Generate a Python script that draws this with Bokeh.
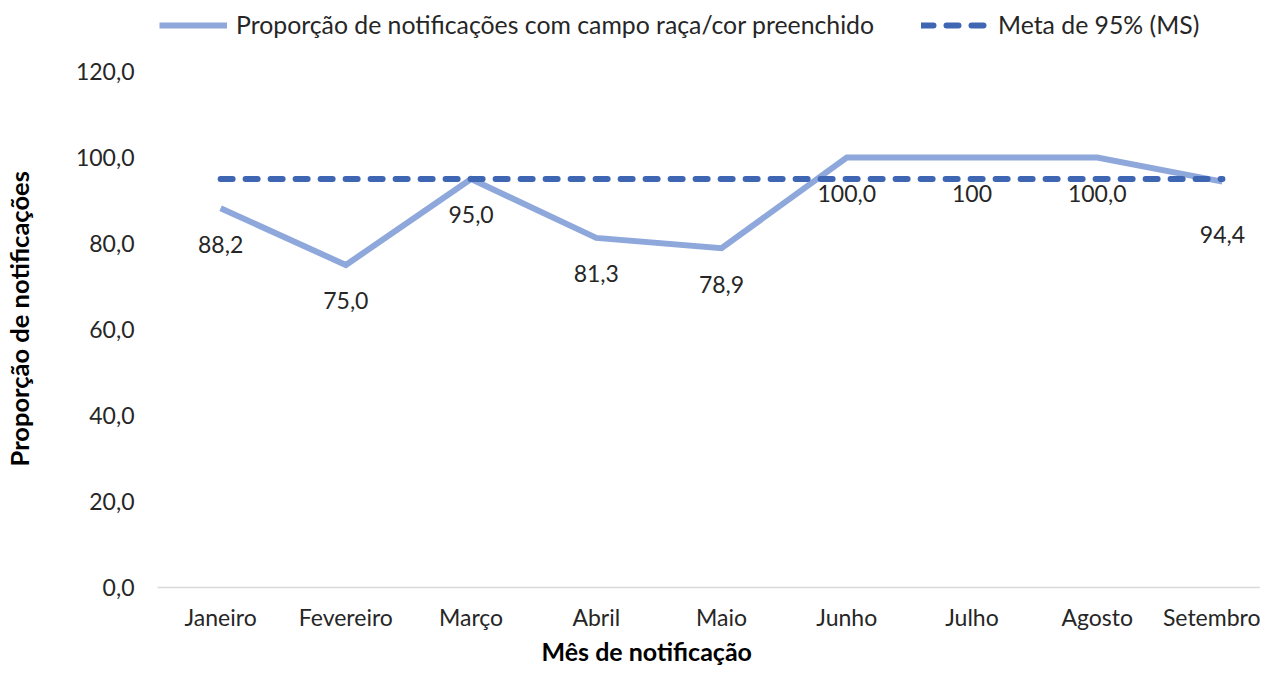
from bokeh.plotting import figure
from bokeh.models import Range1d, Legend, LegendItem, Title, ColumnDataSource, FixedTicker
from bokeh.embed import file_html
from bokeh.resources import INLINE
from bokeh.core.properties import value

months = ["Janeiro", "Fevereiro", "Março", "Abril", "Maio", "Junho", "Julho", "Agosto", "Setembro"]
proporcao = [88.2, 75.0, 95.0, 81.3, 78.9, 100.0, 100.0, 100.0, 94.4]
proporcao_labels = ["88,2", "75,0", "95,0", "81,3", "78,9", "100,0", "100", "100,0", "94,4"]
meta = [95, 95, 95, 95, 95, 95, 95, 95, 95]
y_ticks = [0, 20, 40, 60, 80, 100, 120]
y_tick_labels = ["0,0", "20,0", "40,0", "60,0", "80,0", "100,0", "120,0"]

# label placement (style, not data)
label_dy = [36, 36, 36, 36, 36, 36, 36, 36, 53]

FONT = "Lato"
FS = "23px"
TXT = "#262626"
SOLID = "#8FA8DC"
DASH = "#3F66B2"
NB = "\u00a0"

xs = list(range(len(months)))
src = ColumnDataSource(dict(x=xs, y=proporcao, lab=proporcao_labels, dy=label_dy, meta=meta))

# The frame reaches the top so that the legend sits inside it (no grid, so the extra room stays blank).
p = figure(width=1260, height=668, output_backend="svg", toolbar_location=None,
           x_range=Range1d(-0.504, 8.304), y_range=Range1d(0, 136.51),
           min_border_left=149, min_border_right=0, min_border_top=0, min_border_bottom=81)
p.outline_line_color = None
p.xgrid.grid_line_color = None
p.ygrid.grid_line_color = None

r1 = p.line("x", "y", source=src, line_color=SOLID, line_width=6, line_join="miter")
r2 = p.line("x", "meta", source=src, line_color=DASH, line_width=6, line_dash="12 13", line_cap="round")

p.text("x", "y", text="lab", source=src, y_offset="dy", text_align="center", text_baseline="middle",
       text_font=value(FONT), text_font_size=FS, text_color=TXT)

# x axis
p.xaxis.ticker = FixedTicker(ticks=xs)
p.xaxis.major_label_overrides = {i: m for i, m in enumerate(months)}
p.xaxis.major_tick_line_color = None
p.xaxis.minor_tick_line_color = None
p.xaxis.major_tick_out = 0
p.xaxis.major_tick_in = 0
p.xaxis.minor_tick_out = 0
p.xaxis.minor_tick_in = 0
p.xaxis.axis_line_color = "#D9D9D9"
p.xaxis.axis_line_width = 1.5
p.xaxis.major_label_standoff = 15
p.xaxis.major_label_text_font = FONT
p.xaxis.major_label_text_font_size = FS
p.xaxis.major_label_text_color = TXT

p.add_layout(Title(text="Mês de notificação", align="left", offset=384, standoff=1,
                   text_font=FONT, text_font_style="bold", text_font_size="25px",
                   text_color="#000000"), "below")

# y axis
p.yaxis.ticker = FixedTicker(ticks=y_ticks)
p.yaxis.major_label_overrides = {t: l for t, l in zip(y_ticks, y_tick_labels)}
p.yaxis.major_tick_line_color = None
p.yaxis.minor_tick_line_color = None
p.yaxis.major_tick_out = 0
p.yaxis.major_tick_in = 0
p.yaxis.minor_tick_out = 0
p.yaxis.minor_tick_in = 0
p.yaxis.axis_line_color = None
p.yaxis.major_label_standoff = 23
p.yaxis.major_label_text_font = FONT
p.yaxis.major_label_text_font_size = FS
p.yaxis.major_label_text_color = TXT
p.yaxis.axis_label = "Proporção de notificações" + NB * 8
p.yaxis.axis_label_text_font = FONT
p.yaxis.axis_label_text_font_style = "bold"
p.yaxis.axis_label_text_font_size = "25.5px"
p.yaxis.axis_label_text_color = "#000000"
p.yaxis.axis_label_standoff = 39

legend = Legend(items=[LegendItem(label="Proporção de notificações com campo raça/cor preenchido", renderers=[r1]),
                       LegendItem(label="Meta de 95% (MS)", renderers=[r2])],
                orientation="horizontal", location=(2, 548), glyph_width=68, glyph_height=28,
                label_height=28, label_text_font=FONT, label_text_font_size="24.8px", label_text_color=TXT,
                spacing=47, label_standoff=9, padding=0, margin=0,
                border_line_color=None, background_fill_alpha=0)
p.add_layout(legend, "center")

open("out.html", "w").write(file_html(p, INLINE))
